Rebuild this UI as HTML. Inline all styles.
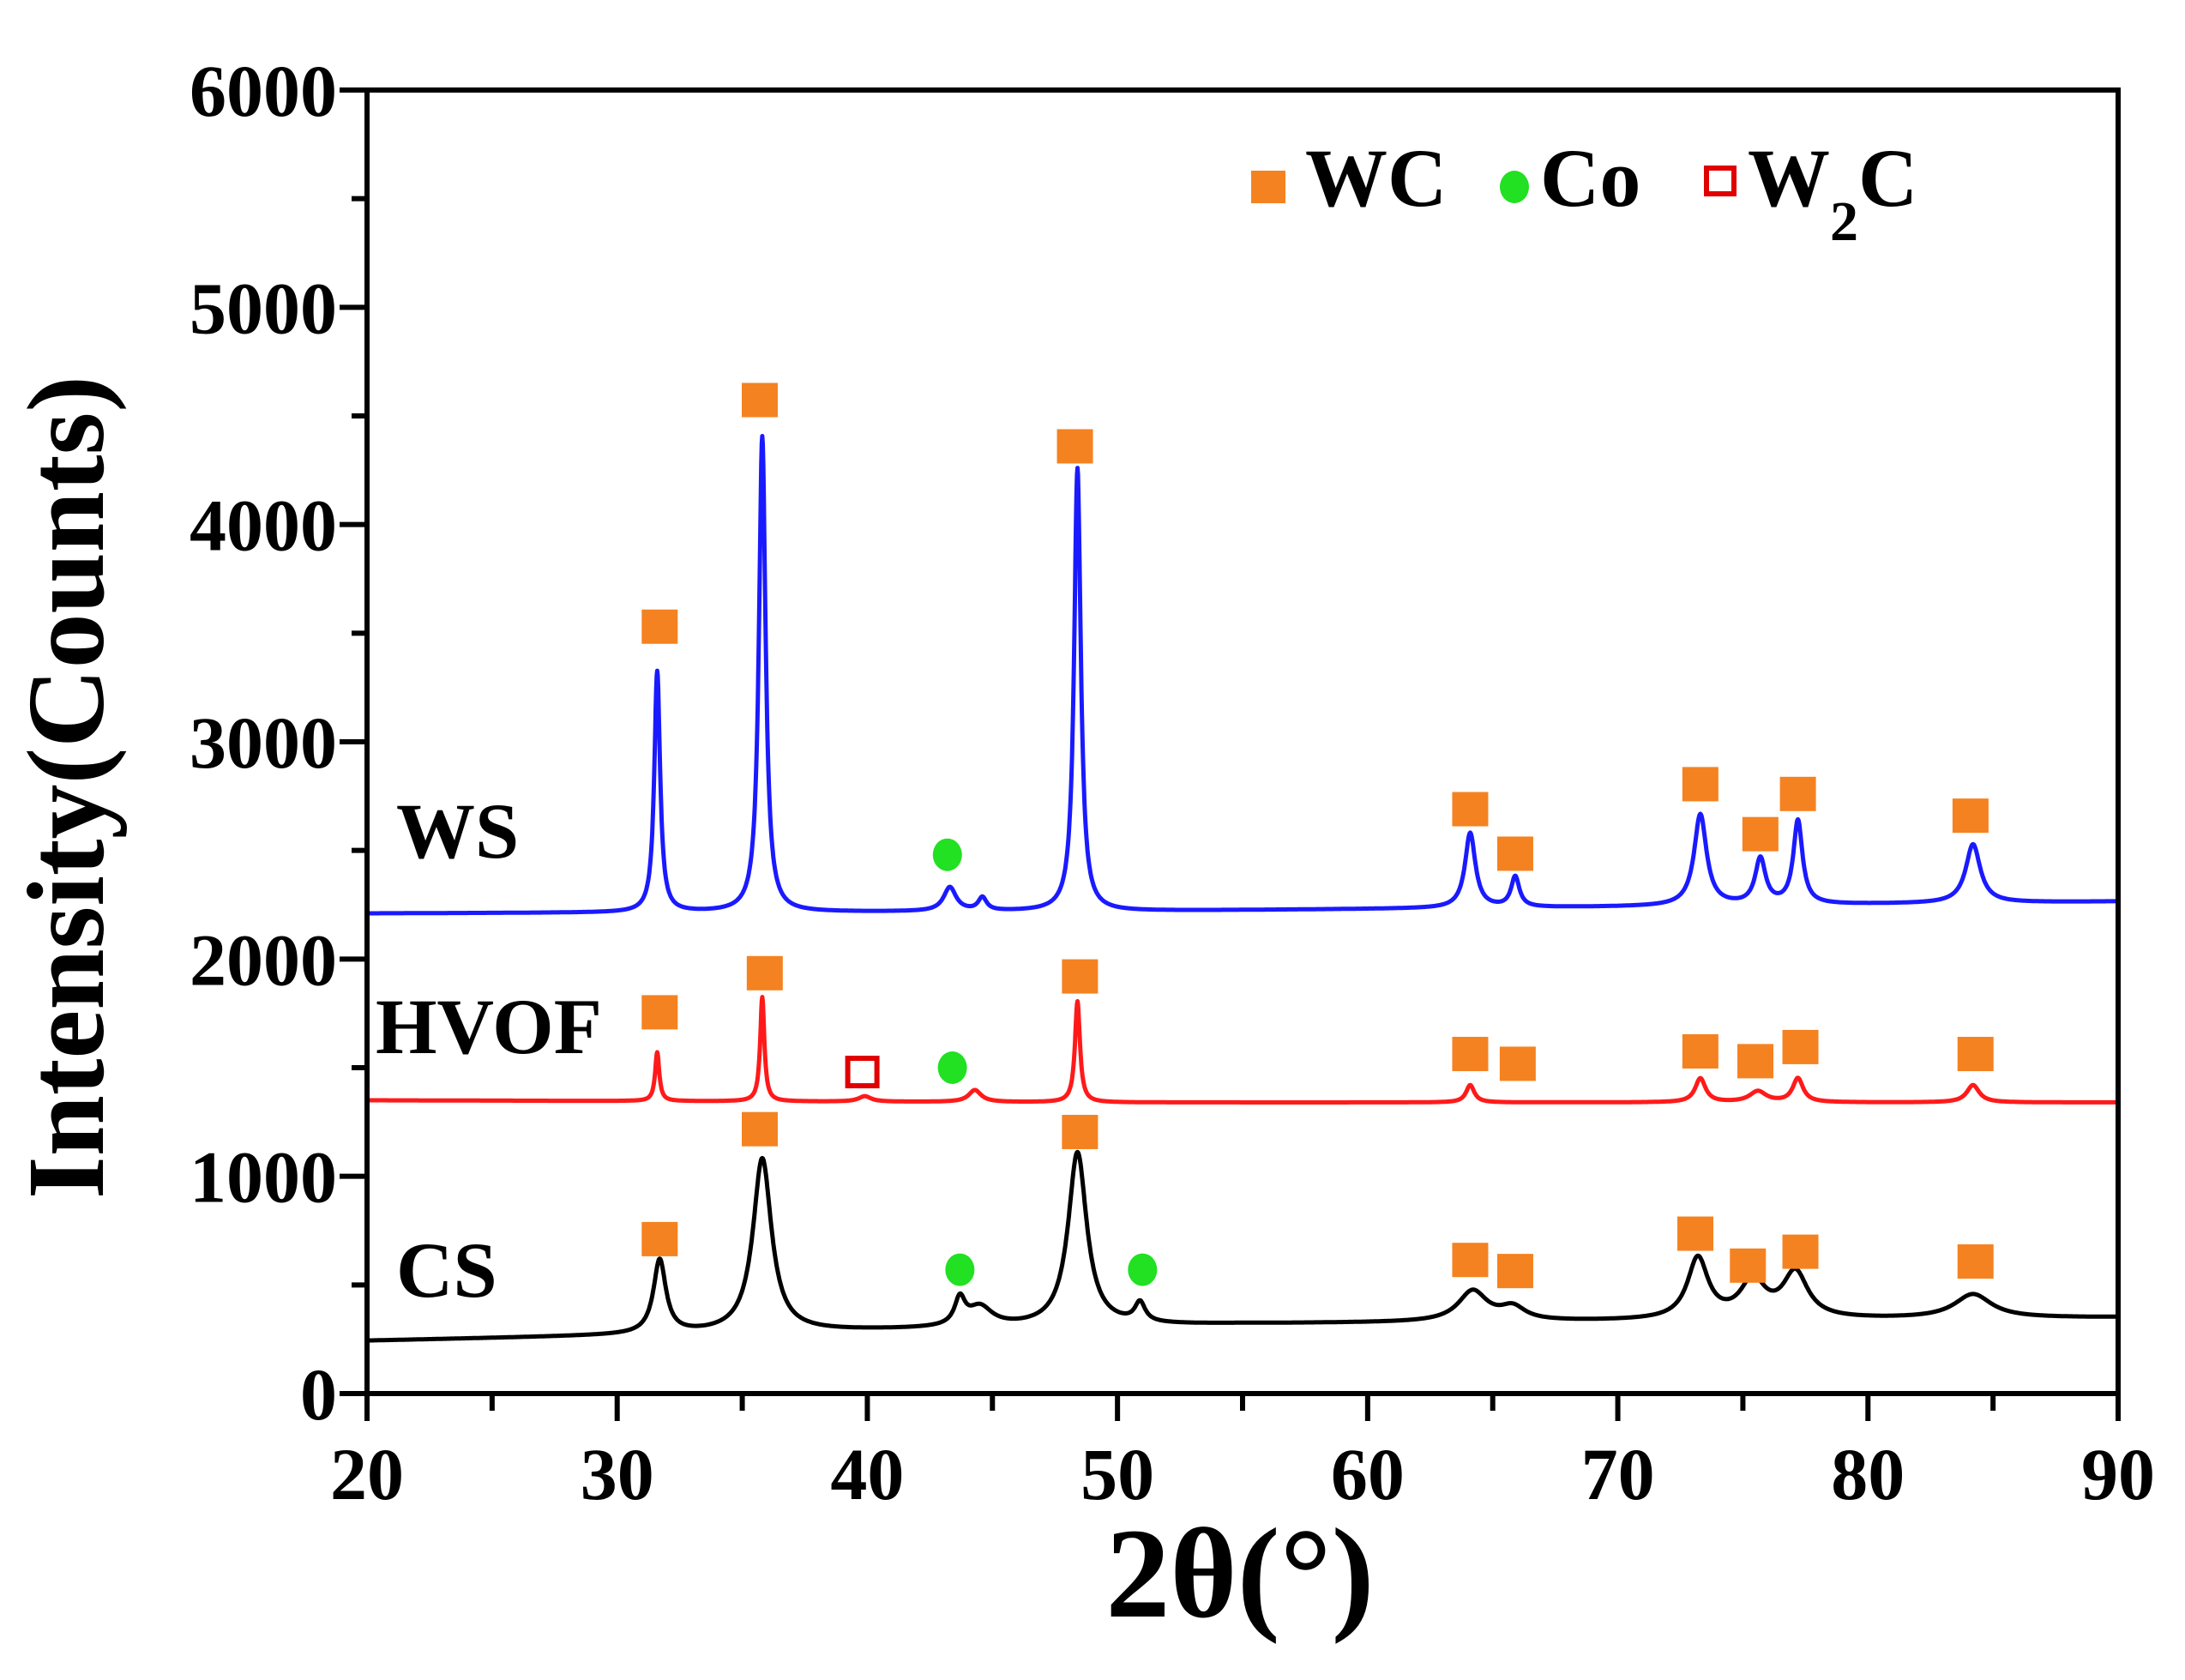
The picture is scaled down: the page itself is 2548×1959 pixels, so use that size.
<!DOCTYPE html>
<html><head><meta charset="utf-8"><style>
html,body{margin:0;padding:0;background:#fff;}
svg{display:block;font-family:"Liberation Serif",serif;font-weight:bold;}
</style></head><body>
<svg id="chart" width="2548" height="1959" viewBox="0 0 2548 1959" xmlns="http://www.w3.org/2000/svg">
<g id="plot"></g>
</svg>
<script>
const xTicks=[20,30,40,50,60,70,80,90];
const yTicks=[0,1000,2000,3000,4000,5000,6000];
// baselines [2θ, counts]
const wsBase=[[20,2210],[50,2220],[70,2240],[90,2265]];
const hvofBase=[[20,1350],[50,1340],[90,1340]];
const csBase=[[20,243],[40,290],[55,320],[90,350]];
// peaks [center, height above base, half-width]
const wsPeaks=[[31.6,1110,0.14],[35.8,2190,0.16],[43.3,110,0.3],[44.6,60,0.2],[48.4,2040,0.16],[64.1,345,0.25],[65.9,140,0.2],[73.3,420,0.3],[75.7,210,0.25],[77.2,385,0.22],[84.2,270,0.35]];
const hvofPeaks=[[31.6,225,0.1],[35.8,480,0.1],[39.9,25,0.3],[44.3,55,0.3],[48.4,465,0.12],[64.1,80,0.2],[73.3,110,0.25],[75.6,50,0.4],[77.2,110,0.25],[84.2,80,0.3]];
const csPeaks=[[31.7,340,0.3],[35.8,800,0.45],[43.7,120,0.25],[44.5,90,0.6],[48.4,800,0.45],[50.9,90,0.25],[64.2,140,0.7],[65.8,60,0.6],[73.2,280,0.5],[75.4,170,0.6],[77.1,210,0.6],[84.2,110,0.9]];
const wcMarkers=[[31.7,3530],[35.7,4573],[48.3,4360],[64.1,2690],[65.9,2485],[73.3,2805],[75.7,2575],[77.2,2760],[84.1,2660],
 [31.7,1755],[35.9,1935],[48.5,1920],[64.1,1563],[66.0,1518],[73.3,1575],[75.5,1530],[77.3,1595],[84.3,1563],
 [31.7,711],[35.7,1217],[48.5,1204],[64.1,615],[65.9,564],[73.1,736],[75.2,589],[77.3,653],[84.3,608]];
const coMarkers=[[43.2,2480],[43.4,1500],[43.7,570],[51.0,570]];
const w2cMarkers=[[39.8,1480]];

const L=428,R=2470,T=105,B=1625;
const X=v=>L+(v-20)/70*(R-L);
const Y=v=>B-v/6000*(B-T);
const NS="http://www.w3.org/2000/svg";
const g=document.getElementById('plot');
function mk(tag,attrs,parent){const e=document.createElementNS(NS,tag);for(const k in attrs)e.setAttribute(k,attrs[k]);(parent||g).appendChild(e);return e;}

function baseAt(b,x){for(let i=0;i<b.length-1;i++){if(x<=b[i+1][0]){const t=(x-b[i][0])/(b[i+1][0]-b[i][0]);return b[i][1]+t*(b[i+1][1]-b[i][1]);}}return b[b.length-1][1];}
function series(base,peaks,color,name){
  let d="";
  for(let i=0;i<=3500;i++){const x=20+i*0.02;let y=baseAt(base,x);
    for(const p of peaks){const u=(x-p[0])/p[2];y+=p[1]/(1+u*u);}
    d+=(i?"L":"M")+X(x).toFixed(1)+" "+Y(y).toFixed(1);}
  const p=mk('path',{d:d,fill:'none',stroke:color,'stroke-width':5,'stroke-linejoin':'round'});
  
  
}
series(wsBase,wsPeaks,'#1a1aff','ws-series');
series(hvofBase,hvofPeaks,'#ff1a1a','hvof-series');
series(csBase,csPeaks,'#000','cs-series');

// axes
const ax=mk('g',{stroke:'#000','stroke-width':6,fill:'none'});


mk('rect',{x:L,y:T,width:R-L,height:B-T},ax);
for(let v=20;v<=90;v+=5){const major=v%10===0;mk('line',{x1:X(v),x2:X(v),y1:B,y2:B+(major?32:20)},ax);}
for(let v=0;v<=6000;v+=500){const major=v%1000===0;mk('line',{x1:L,x2:L-(major?32:18),y1:Y(v),y2:Y(v)},ax);}
xTicks.forEach(v=>{const t=mk('text',{x:X(v),y:1748,'font-size':86,'text-anchor':'middle'});t.textContent=v;
 
 });
yTicks.forEach(v=>{const t=mk('text',{x:393,y:Y(v)+30,'font-size':86,'text-anchor':'end'});t.textContent=v;
 
 });

// markers
wcMarkers.forEach(m=>{const r=mk('rect',{x:X(m[0])-21,y:Y(m[1])-20,width:42,height:40,fill:'#f58220'});
 
 });
coMarkers.forEach(m=>{const c=mk('ellipse',{cx:X(m[0]),cy:Y(m[1]),rx:17,ry:19,fill:'#22e022'});
 
 });
w2cMarkers.forEach(m=>{const r=mk('rect',{x:X(m[0])-17,y:Y(m[1])-16,width:34,height:32,fill:'none',stroke:'#e00000','stroke-width':6});
 
 });
</script>
<svg style="position:absolute;left:0;top:0" width="2548" height="1959" xmlns="http://www.w3.org/2000/svg" font-family="Liberation Serif, serif" font-weight="bold">
<g>
<rect x="1459" y="199" width="40" height="38" fill="#f58220"/>
<text x="1522" y="240" font-size="96">WC</text>
<ellipse cx="1766" cy="218" rx="17" ry="19" fill="#22e022"/>
<text x="1796" y="240" font-size="96">Co</text>
<rect x="1990" y="196" width="32" height="30" fill="none" stroke="#e00000" stroke-width="6"/>
<text x="2038" y="240" font-size="96">W<tspan font-size="66" dy="40">2</tspan><tspan dy="-40">C</tspan></text>
</g>
<text x="462" y="1000" font-size="92">WS</text>
<text x="438" y="1228" font-size="92">HVOF</text>
<text x="462" y="1512" font-size="92">CS</text>
<text x="1446" y="1885" font-size="150" text-anchor="middle">2θ(°)</text>
<text transform="translate(120,918) rotate(-90)" font-size="128" text-anchor="middle">Intensity(Counts)</text>
</svg>
</body></html>
